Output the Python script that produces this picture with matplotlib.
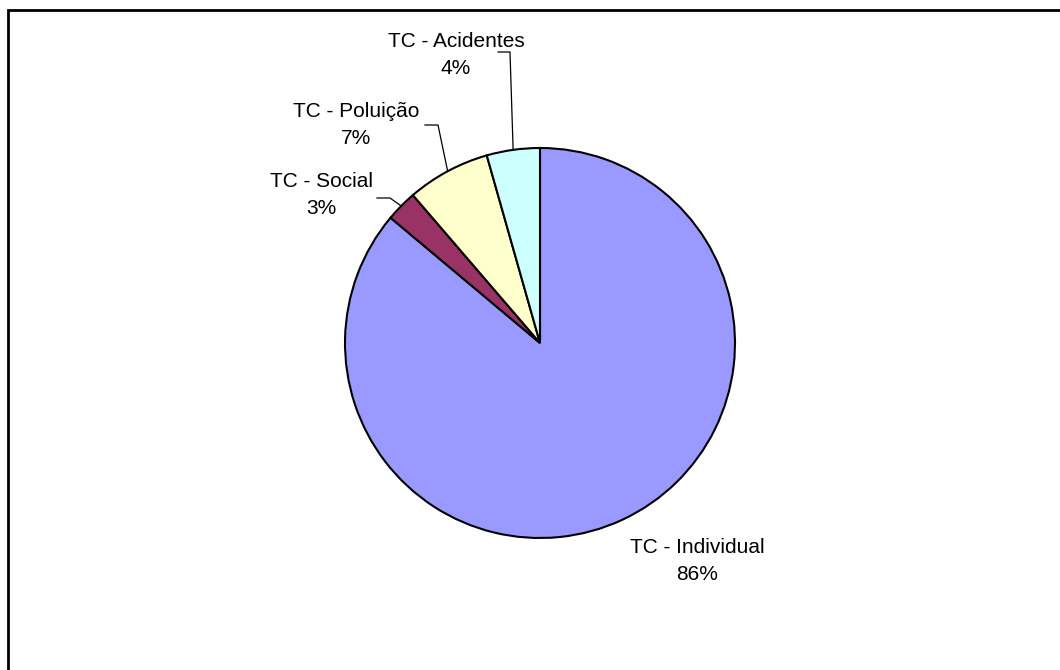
import numpy as np
import matplotlib.pyplot as plt
from matplotlib.patches import Rectangle

plt.rcParams['font.family'] = ['Liberation Sans', 'DejaVu Sans']

# dados (fatias no sentido horario a partir do topo)
categorias = ['TC - Individual', 'TC - Social', 'TC - Poluição', 'TC - Acidentes']
valores = [86.1, 2.6, 6.9, 4.4]
cores = ['#9999FF', '#993366', '#FFFFCC', '#CCFFFF']

W, H = 1060, 670

def py(y):
    # converte y de pixel (topo=0) para coordenada do eixo
    return H - y

fig = plt.figure(figsize=(W / 100, H / 100), dpi=100)
ax = fig.add_axes([0, 0, 1, 1])

centro = (540, py(343))
raio = 195

wedges, _ = ax.pie(valores, colors=cores, startangle=90, counterclock=False,
                   center=centro, radius=raio, frame=True,
                   wedgeprops=dict(edgecolor='black', linewidth=1.5))
ax.set_xlim(0, W)
ax.set_ylim(0, H)
ax.set_aspect('equal')
ax.axis('off')

# posicoes dos rotulos e cotovelos das linhas de chamada
rotulos_pos = [(697, 561), (321, 195), (356, 125), (456, 55)]
cotovelos = [None, [(390, 198), (377, 198)], [(438, 125), (425, 125)],
             [(510, 52), (498, 52)]]

total = sum(valores)
for w, cat, v, pos, cot in zip(wedges, categorias, valores, rotulos_pos, cotovelos):
    pct = '%d%%' % round(100 * v / total)
    ax.text(pos[0], py(pos[1]), cat + '\n' + pct, ha='center', va='center',
            fontsize=15, linespacing=1.55, color='black')
    if cot is not None:
        ang = np.deg2rad((w.theta1 + w.theta2) / 2)
        x0 = centro[0] + raio * np.cos(ang)
        y0 = centro[1] + raio * np.sin(ang)
        xs = [x0] + [c[0] for c in cot]
        ys = [y0] + [py(c[1]) for c in cot]
        ax.plot(xs, ys, color='black', linewidth=0.9)

# moldura (apenas topo e esquerda visiveis)
ax.add_patch(Rectangle((8, -20), W + 50, py(10) + 20, fill=False,
                       edgecolor='black', linewidth=2, clip_on=False))

fig.savefig('out.png', dpi=100, facecolor='white')
